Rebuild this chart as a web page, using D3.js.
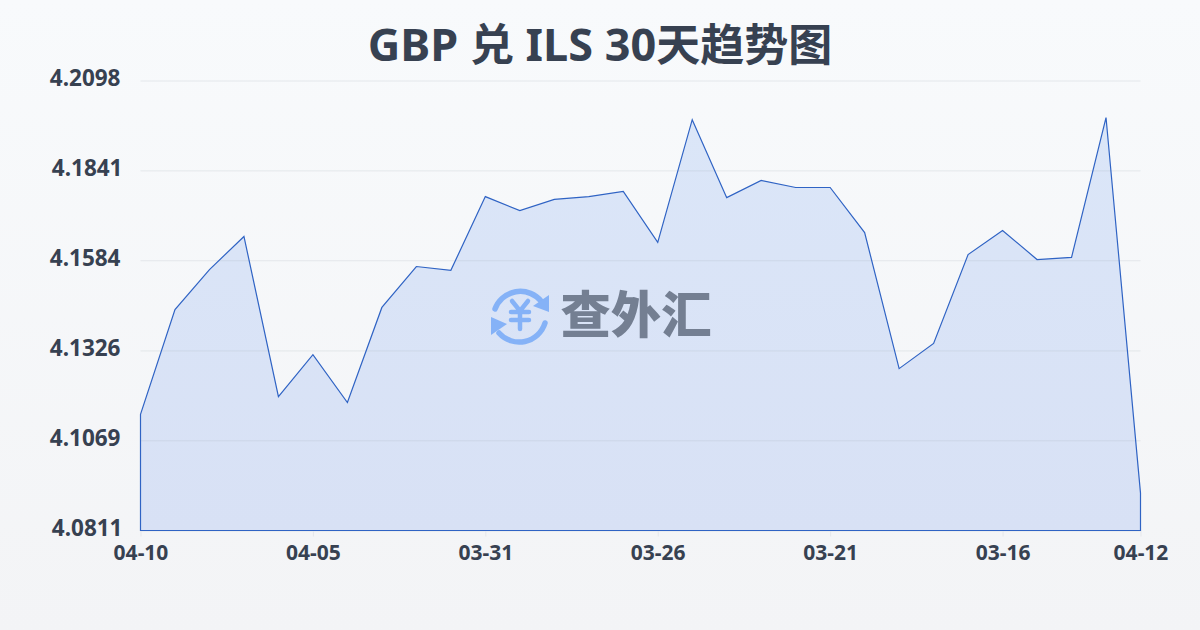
<!DOCTYPE html>
<html><head><meta charset="utf-8">
<script src="https://cdn.jsdelivr.net/npm/d3@7/dist/d3.min.js"></script>
<style>html,body{margin:0;padding:0;overflow:hidden}svg{display:block}</style>
</head><body><svg id="c" width="1200" height="630"></svg>
<script>
const titleParts = [["GBP ",45],["兑",44],[" ILS 30",45],["天趋势图",44]];
const dates = ["04-10","04-09","04-08","04-07","04-06","04-05","04-04","04-03","04-02","04-01","03-31","03-30","03-29","03-28","03-27","03-26","03-25","03-24","03-23","03-22","03-21","03-20","03-19","03-18","03-17","03-16","03-15","03-14","03-13","04-12"];
const rates = [4.1143,4.1443,4.1557,4.1652,4.1194,4.1314,4.1177,4.1449,4.1566,4.1555,4.1766,4.1726,4.1758,4.1766,4.1781,4.1635,4.1986,4.1763,4.1812,4.1792,4.1792,4.1663,4.1274,4.1346,4.1600,4.1669,4.1586,4.1592,4.1992,4.0918];
const yTicks = [4.0811,4.1069,4.1326,4.1584,4.1841,4.2098];
const xTickIndex = [0,5,10,15,20,25,29];
const font = '"Noto Sans","Noto Sans CJK SC",sans-serif';
const svg = d3.select("#c");
const defs = svg.append("defs");
const bg = defs.append("linearGradient").attr("id","bg").attr("x1",0).attr("y1",0).attr("x2",0).attr("y2",1);
bg.append("stop").attr("offset",0).attr("stop-color","#f8fafc");
bg.append("stop").attr("offset",1).attr("stop-color","#f3f4f6");
const ag = defs.append("linearGradient").attr("id","ag").attr("x1",0).attr("y1",0).attr("x2",0).attr("y2",1);
ag.append("stop").attr("offset",0).attr("stop-color","#dbe6f8");
ag.append("stop").attr("offset",1).attr("stop-color","#d8e1f5");
svg.append("rect").attr("width",1200).attr("height",630).attr("fill","url(#bg)");

const x = d3.scalePoint().domain(d3.range(rates.length)).range([140.5,1140.5]);
const y = d3.scaleLinear().domain([4.0811,4.2098]).range([530.5,80.5]);

const title = svg.append("text").attr("x",600).attr("y",60.5).attr("text-anchor","middle").attr("xml:space","preserve")
  .style("white-space","pre").attr("font-family",font).attr("font-weight",700).attr("fill","#374151");
title.selectAll("tspan").data(titleParts).join("tspan").text(d=>d[0]).attr("font-size",d=>d[1]);

const area = d3.area().x((d,i)=>x(i)).y0(y(yTicks[0])).y1(d=>y(d));
svg.append("path").datum(rates).attr("d",area).attr("fill","url(#ag)");

const yAxis = svg.append("g").attr("transform","translate(140.5,0)")
  .call(d3.axisLeft(y).tickValues(yTicks).tickFormat(d3.format(".4f")).tickSize(-1000).tickPadding(18));
yAxis.select(".domain").remove();
yAxis.selectAll("line").attr("stroke","#9ca3af").attr("stroke-opacity",0.2);
yAxis.selectAll("text").attr("font-family",font).attr("font-weight",700).attr("font-size",22.5).attr("fill","#374151").attr("dy","0.22em")
  .attr("dx",d=>d3.format(".4f")(d).endsWith("1")?0:-2);

const xAxis = svg.append("g").attr("transform","translate(0,530.5)")
  .call(d3.axisBottom(x).tickValues(xTickIndex).tickFormat(i=>dates[i]).tickSize(6).tickPadding(9));
xAxis.select(".domain").remove();
xAxis.selectAll("line").attr("stroke","#e5e7eb");
xAxis.selectAll("text").attr("font-family",font).attr("font-weight",700).attr("font-size",21).attr("fill","#374151");

const outline = d3.line().x(d=>d[0]).y(d=>d[1]);
svg.append("path").attr("d",outline(rates.map((d,i)=>[x(i),y(d)]).concat([[x(rates.length-1),y(yTicks[0])],[x(0),y(yTicks[0])]]))+"Z")
  .attr("fill","none").attr("stroke","#2f63c4").attr("stroke-width",1.2);

// watermark
const wm = svg.append("g");
const logo = wm.append("g").attr("fill","none").attr("stroke","#85b2f7").attr("stroke-linecap","round");
logo.append("path").attr("d","M495 309 A27 27 0 0 1 541 301").attr("stroke-width",5.5);
logo.append("path").attr("d","M545 323 A27 27 0 0 1 499 333").attr("stroke-width",5.5);
wm.append("path").attr("d","M549 295 L549 312 L533 306 Z").attr("fill","#85b2f7");
wm.append("path").attr("d","M491 335 L491 317 L507 324 Z").attr("fill","#85b2f7");
logo.append("path").attr("d","M512 301 L520 311 L528 301 M511 312 H529 M511 320 H529 M520 311 V329").attr("stroke-width",4.5);
wm.append("text").text("查外汇").attr("x",636).attr("y",333).attr("text-anchor","middle")
  .attr("font-family",'"Noto Sans CJK SC",sans-serif').attr("font-weight",900).attr("font-size",50)
  .attr("textLength",151).attr("lengthAdjust","spacingAndGlyphs").attr("fill","#747f92");
</script></body></html>
